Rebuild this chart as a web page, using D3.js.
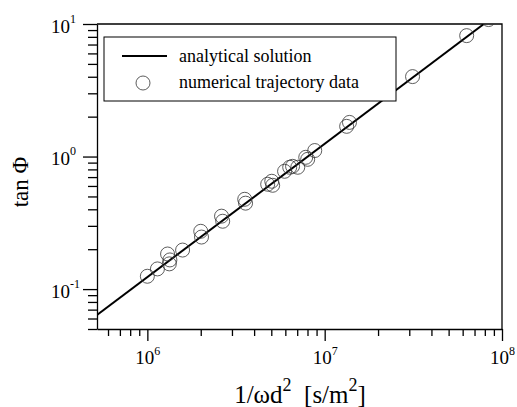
<!DOCTYPE html>
<html>
<head>
<meta charset="utf-8">
<script src="https://cdn.jsdelivr.net/npm/d3@7"></script>
<style>
  body { margin: 0; background: #fff; }
  svg text { font-family: "Liberation Serif", "DejaVu Serif", serif !important; fill: #000; }
</style>
</head>
<body>
<div id="chart"></div>
<script>
// numerical trajectory data
const pointX = [1.0e6, 1.14e6, 1.30e6, 1.34e6, 1.33e6, 1.58e6, 2.0e6, 2.02e6, 2.62e6, 2.66e6,
  3.54e6, 3.58e6, 4.77e6, 5.03e6, 5.09e6, 5.94e6, 6.35e6, 6.59e6, 7.05e6, 7.82e6, 8.02e6,
  8.79e6, 1.33e7, 1.38e7, 3.13e7, 6.32e7, 8.4e7];
const pointY = [0.125, 0.142, 0.184, 0.166, 0.155, 0.197, 0.273, 0.247, 0.355, 0.325,
  0.476, 0.445, 0.618, 0.651, 0.607, 0.774, 0.830, 0.844, 0.830, 0.987, 0.953,
  1.11, 1.69, 1.81, 4.01, 8.17, 10.8];

// analytical solution (straight line in log-log)
const lineX = [5.2e5, 7.9e7];
const lineY = [0.0638, 10];

const xMajor = [1e6, 1e7, 1e8];
const xMajorExp = ["6", "7", "8"];
const yMajor = [0.1, 1, 10];
const yMajorExp = ["-1", "0", "1"];

const legendLabels = ["analytical solution", "numerical trajectory data"];

const FONT = '"Liberation Serif", "DejaVu Serif", serif';

const config = {
  width: 517, height: 407,
  margin: { top: 24, right: 15, bottom: 78, left: 97 }
};
const w = config.width - config.margin.left - config.margin.right;
const h = config.height - config.margin.top - config.margin.bottom;

const svg = d3.select("#chart").append("svg")
  .attr("width", config.width)
  .attr("height", config.height)
  .attr("font-family", FONT);

const g = svg.append("g")
  .attr("transform", `translate(${config.margin.left},${config.margin.top})`);

const x = d3.scaleLog().domain([5.2e5, 1e8]).range([0, w]);
const y = d3.scaleLog().domain([0.05, 10]).range([h, 0]);

// minor tick values
const minorTicks = (lo, hi) => {
  const out = [];
  for (let e = Math.floor(Math.log10(lo)); e <= Math.ceil(Math.log10(hi)); e++) {
    for (let k = 2; k <= 9; k++) {
      const v = k * Math.pow(10, e);
      if (v >= lo && v <= hi) out.push(v);
    }
  }
  return out;
};

g.append("clipPath").attr("id", "plot-clip")
  .append("rect").attr("width", w).attr("height", h);

// x axis
g.append("g")
  .attr("transform", `translate(0,${h})`)
  .call(d3.axisBottom(x).tickValues(minorTicks(5.2e5, 1e8)).tickSize(7).tickFormat(""))
  .call(a => a.select(".domain").remove());
const xAx = g.append("g")
  .attr("transform", `translate(0,${h})`)
  .call(d3.axisBottom(x).tickValues(xMajor).tickSize(12).tickSizeOuter(0).tickFormat(""));
xAx.selectAll(".tick").each(function (d, i) {
  const t = d3.select(this).append("text")
    .attr("y", 35).attr("text-anchor", "middle")
    .style("font-family", FONT)
    .style("font-size", "19px");
  t.append("tspan").text("10");
  t.append("tspan").attr("dy", -9).style("font-size", "12px").text(xMajorExp[i]);
});

// y axis
g.append("g")
  .call(d3.axisLeft(y).tickValues(minorTicks(0.05, 10)).tickSize(9).tickFormat(""))
  .call(a => a.select(".domain").remove());
const yAx = g.append("g")
  .call(d3.axisLeft(y).tickValues(yMajor).tickSize(14).tickSizeOuter(0).tickFormat(""));
yAx.selectAll(".tick").each(function (d, i) {
  const t = d3.select(this).append("text")
    .attr("x", -46).attr("y", 8).attr("text-anchor", "start")
    .style("font-family", FONT)
    .style("font-size", "19px");
  t.append("tspan").text("10");
  t.append("tspan").attr("dy", -10).style("font-size", "12px").text(yMajorExp[i]);
});

g.selectAll(".domain, .tick line").attr("stroke", "#000").attr("stroke-width", 1.3);

// frame top & right
g.append("path")
  .attr("d", `M0,0H${w}V${h}`)
  .attr("fill", "none").attr("stroke", "#000").attr("stroke-width", 1.3);

const plot = g.append("g").attr("clip-path", "url(#plot-clip)");

plot.append("path")
  .datum(d3.zip(lineX, lineY))
  .attr("d", d3.line().x(d => x(d[0])).y(d => y(d[1])))
  .attr("fill", "none").attr("stroke", "#000").attr("stroke-width", 2);

plot.selectAll("circle.pt")
  .data(d3.zip(pointX, pointY))
  .join("circle")
  .attr("class", "pt")
  .attr("cx", d => x(d[0]))
  .attr("cy", d => y(d[1]))
  .attr("r", 7)
  .attr("fill", "none").attr("stroke", "#333").attr("stroke-width", 0.8);

// legend
const lg = svg.append("g").attr("transform", "translate(104,37)");
lg.append("rect").attr("width", 292).attr("height", 64)
  .attr("fill", "#fff").attr("stroke", "#000").attr("stroke-width", 1);
lg.append("line").attr("x1", 18).attr("x2", 63).attr("y1", 19).attr("y2", 19)
  .attr("stroke", "#000").attr("stroke-width", 2);
lg.append("circle").attr("cx", 39).attr("cy", 46).attr("r", 7)
  .attr("fill", "none").attr("stroke", "#333").attr("stroke-width", 0.8);
lg.selectAll("text.lab")
  .data(legendLabels)
  .join("text")
  .attr("class", "lab")
  .attr("x", 75).attr("y", (d, i) => 25 + i * 26)
  .style("font-family", FONT)
  .style("font-size", "18px")
  .text(d => d);

// axis titles
const xt = svg.append("text")
  .attr("x", 300).attr("y", 403).attr("text-anchor", "middle")
  .style("font-family", FONT)
  .style("font-size", "25px");
xt.append("tspan").text("1/ωd");
xt.append("tspan").attr("dy", -12).style("font-size", "18px").text("2");
xt.append("tspan").attr("dy", 12).text("\u00a0\u00a0[s/m");
xt.append("tspan").attr("dy", -12).style("font-size", "18px").text("2");
xt.append("tspan").attr("dy", 12).text("]");

svg.append("text")
  .attr("transform", "translate(28,182) rotate(-90)")
  .attr("text-anchor", "middle")
  .style("font-family", FONT)
  .style("font-size", "23px")
  .text("tan Φ");
</script>
</body>
</html>
